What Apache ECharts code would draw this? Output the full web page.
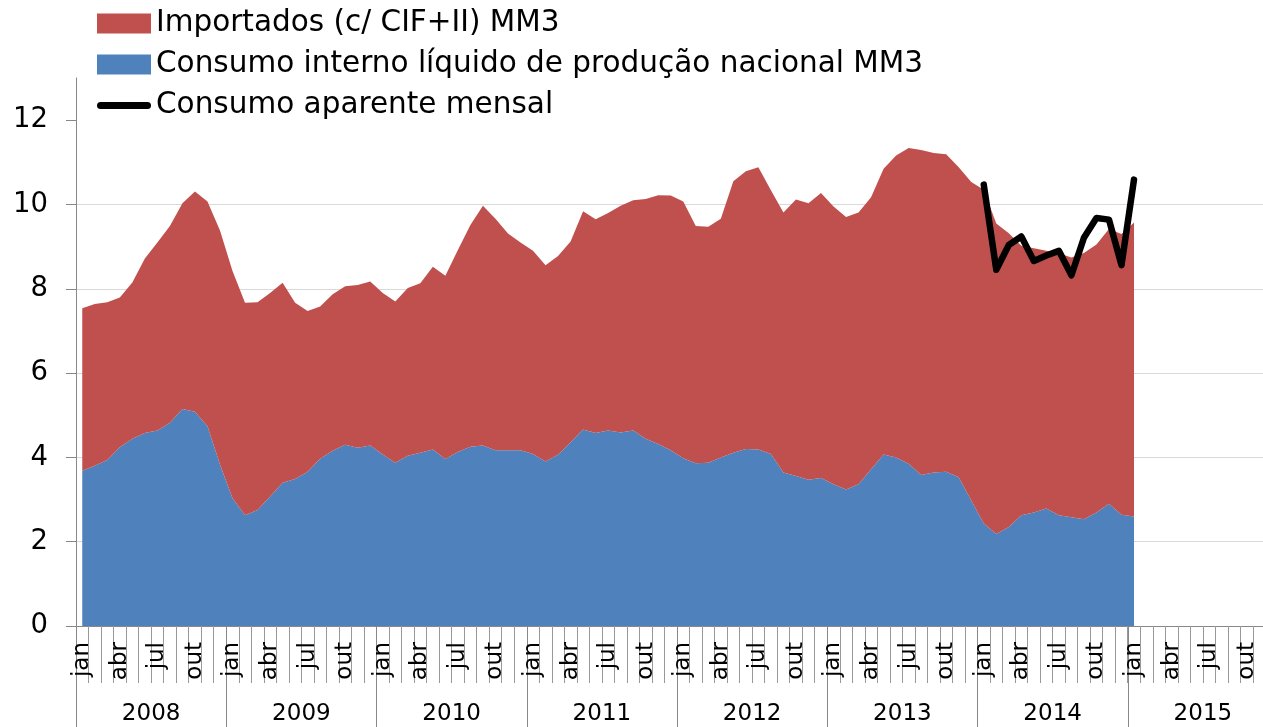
<!DOCTYPE html>
<html lang="pt">
<head>
<meta charset="UTF-8">
<title>Consumo aparente</title>
<script src="https://cdn.jsdelivr.net/npm/echarts@6/dist/echarts.min.js"></script>
<style>
    html, body { margin: 0; padding: 0; background: #fff; }
    #main { width: 1263px; height: 727px; }
</style>
</head>
<body>
<div id="main"></div>
<script>
    // eixo x: anos e meses
    var years = ['2008', '2009', '2010', '2011', '2012', '2013', '2014', '2015'];
    var months = ['jan', 'fev', 'mar', 'abr', 'mai', 'jun', 'jul', 'ago', 'set', 'out', 'nov', 'dez'];
    var yTicks = [0, 2, 4, 6, 8, 10, 12];

    // jan/2008 .. jan/2015
    var consumoInterno = [
        3.68, 3.80, 3.94, 4.24, 4.44, 4.58, 4.64, 4.82, 5.15, 5.08, 4.74, 3.83,
        3.03, 2.63, 2.75, 3.07, 3.40, 3.49, 3.66, 3.97, 4.16, 4.30, 4.23, 4.28,
        4.07, 3.87, 4.04, 4.11, 4.19, 3.96, 4.13, 4.25, 4.28, 4.17, 4.17, 4.17,
        4.08, 3.90, 4.06, 4.36, 4.66, 4.58, 4.64, 4.59, 4.64, 4.44, 4.32, 4.17,
        3.98, 3.86, 3.87, 4.00, 4.11, 4.20, 4.19, 4.08, 3.64, 3.56, 3.47, 3.51,
        3.36, 3.24, 3.36, 3.72, 4.07, 4.00, 3.85, 3.58, 3.64, 3.66, 3.53, 2.98,
        2.43, 2.18, 2.35, 2.63, 2.69, 2.79, 2.63, 2.58, 2.53, 2.69, 2.90, 2.64,
        2.60
    ];
    var importados = [
        3.86, 3.84, 3.74, 3.55, 3.71, 4.14, 4.46, 4.67, 4.88, 5.23, 5.33, 5.55,
        5.39, 5.04, 4.93, 4.83, 4.74, 4.18, 3.81, 3.61, 3.71, 3.76, 3.86, 3.89,
        3.83, 3.83, 3.98, 4.02, 4.33, 4.35, 4.79, 5.26, 5.69, 5.49, 5.14, 4.93,
        4.82, 4.66, 4.72, 4.76, 5.18, 5.07, 5.16, 5.38, 5.46, 5.69, 5.90, 6.04,
        6.09, 5.63, 5.60, 5.66, 6.44, 6.59, 6.69, 6.26, 6.17, 6.56, 6.56, 6.76,
        6.59, 6.46, 6.45, 6.45, 6.78, 7.16, 7.49, 7.71, 7.58, 7.53, 7.35, 7.55,
        7.92, 7.37, 6.97, 6.39, 6.27, 6.11, 6.21, 6.16, 6.32, 6.36, 6.52, 6.66,
        6.97
    ];
    // jan/2014 .. jan/2015
    var aparenteInicio = '2014';
    var consumoAparente = [10.47, 8.45, 9.04, 9.24, 8.66, 8.79, 8.90, 8.32, 9.21, 9.68, 9.64, 8.56, 10.59];

    var nomeImp = 'Importados (c/ CIF+II) MM3';
    var nomeInt = 'Consumo interno líquido de produção nacional MM3';
    var nomeApa = 'Consumo aparente mensal';

    var FONT = 'DejaVu Sans';

    var monthCats = [];
    years.forEach(function (y) {
        months.forEach(function (m) { monthCats.push(y + '-' + m); });
    });

    var aparenteData = [];
    var start = years.indexOf(aparenteInicio) * 12;
    for (var i = 0; i < start; i++) aparenteData.push(null);
    aparenteData = aparenteData.concat(consumoAparente);

    // traço grosso com pontas redondas para a legenda da linha
    var lineIcon = 'path://M0,0 M54,20 M3.5,6.5 L50.5,6.5 A3.5,3.5 0 0 1 50.5,13.5 L3.5,13.5 A3.5,3.5 0 0 1 3.5,6.5 Z';

    var myChart = echarts.init(document.getElementById('main'));

    var option = {
        animation: false,
        backgroundColor: '#fff',
        textStyle: { fontFamily: FONT },
        legend: {
            orient: 'vertical',
            left: 97,
            top: 8,
            padding: 0,
            itemWidth: 54,
            itemHeight: 20,
            itemGap: 10,
            textStyle: { fontFamily: FONT, fontSize: 29.5, color: '#000', lineHeight: 31 },
            data: [
                { name: nomeImp, icon: 'rect' },
                { name: nomeInt, icon: 'rect' },
                { name: nomeApa, icon: lineIcon, itemStyle: { color: '#000' } }
            ]
        },
        grid: {
            left: 76,
            top: 78,
            width: 1202,
            height: 548,
            outerBoundsMode: 'none'
        },
        xAxis: [
            {
                type: 'category',
                data: monthCats,
                boundaryGap: true,
                axisLine: { lineStyle: { color: '#888', width: 1 } },
                axisTick: { show: true, interval: 0, length: 57, lineStyle: { color: '#999' } },
                axisLabel: {
                    interval: function (idx) { return idx % 3 === 0; },
                    rotate: 90,
                    margin: 16,
                    fontFamily: FONT,
                    fontSize: 23,
                    color: '#000',
                    formatter: function (v) { return v.split('-')[1]; }
                },
                splitLine: { show: false }
            },
            {
                type: 'category',
                data: years,
                position: 'bottom',
                boundaryGap: true,
                axisLine: { show: false },
                axisTick: { show: true, interval: 0, length: 101, lineStyle: { color: '#888' } },
                axisLabel: { margin: 77, fontFamily: FONT, fontSize: 23, color: '#000' },
                splitLine: { show: false }
            }
        ],
        yAxis: {
            type: 'value',
            min: 0,
            max: 13,
            interval: 2,
            axisLine: { show: true, lineStyle: { color: '#888' } },
            axisTick: { show: true, length: 10, lineStyle: { color: '#888' }, customValues: yTicks },
            axisLabel: { customValues: yTicks, margin: 28, fontFamily: FONT, fontSize: 27.5, color: '#000' },
            splitLine: { show: true, showMinLine: false, showMaxLine: false, lineStyle: { color: '#d9d9d9' } }
        },
        series: [
            {
                name: nomeInt,
                type: 'line',
                stack: 'total',
                data: consumoInterno,
                symbol: 'none',
                lineStyle: { width: 0 },
                itemStyle: { color: '#4F81BD' },
                areaStyle: { color: '#4F81BD', opacity: 1 }
            },
            {
                name: nomeImp,
                type: 'line',
                stack: 'total',
                data: importados,
                symbol: 'none',
                lineStyle: { width: 0 },
                itemStyle: { color: '#C0504D' },
                areaStyle: { color: '#C0504D', opacity: 1 }
            },
            {
                name: nomeApa,
                type: 'line',
                data: aparenteData,
                symbol: 'none',
                z: 5,
                itemStyle: { color: '#000' },
                lineStyle: { color: '#000', width: 6.5, cap: 'round', join: 'round' }
            }
        ]
    };

    myChart.setOption(option);
</script>
</body>
</html>
